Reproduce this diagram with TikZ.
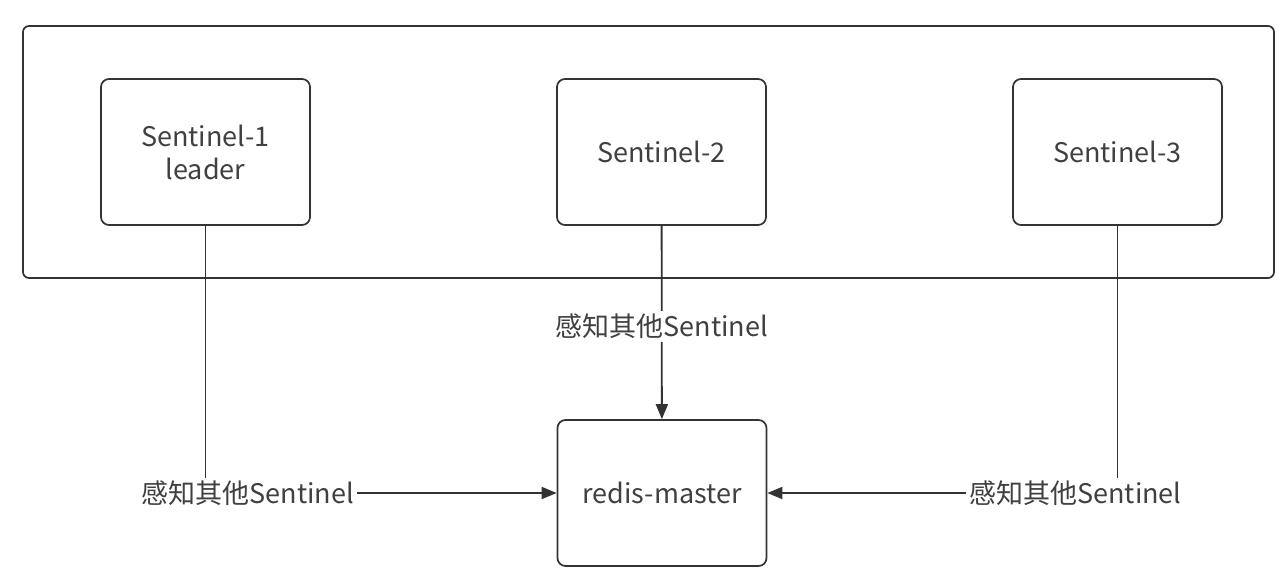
\documentclass[tikz,border=0pt]{standalone}
\usepackage{fontspec}
\setmainfont{Noto Sans CJK SC}
\usetikzlibrary{arrows.meta}

\begin{document}
\begin{tikzpicture}[
  x=0.5pt, y=-0.5pt,
  every node/.style={font=\fontsize{13.5}{16.5}\selectfont, text=black!75},
  frame/.style={rectangle, draw=black!80, line width=0.85pt, rounded corners=3pt,
                minimum width=625.5pt, minimum height=126pt},
  box/.style={rectangle, draw=black!80, line width=0.85pt, rounded corners=4pt,
              minimum width=104.5pt, minimum height=73pt, align=center},
  link/.style={draw=black!80, line width=0.9pt, -{Triangle[length=7.5pt, width=6pt]}},
  lbl/.style={fill=white, inner sep=1.5pt},
]
\useasboundingbox (0,0) rectangle (1286,578);

% --- sentinel group
\node[frame] (group) at (648.5, 152) {};
\node[box] (s1) at (205.5, 152) {Sentinel-1\\leader};
\node[box] (s2) at (661.5, 152) {Sentinel-2};
\node[box] (s3) at (1117.5, 152) {Sentinel-3};

% --- master
\node[box] (master) at (662, 493) {redis-master};

% --- links to master
\draw[link] (s1) |- node[lbl, pos=0.56] (l1) {感知其他Sentinel} (master);
\draw[link] (s2) -- node[lbl, pos=0.52] (l2) {感知其他Sentinel} (master);
\draw[link] (s3) |- node[lbl, pos=0.56] (l3) {感知其他Sentinel} (master);

\end{tikzpicture}
\end{document}
